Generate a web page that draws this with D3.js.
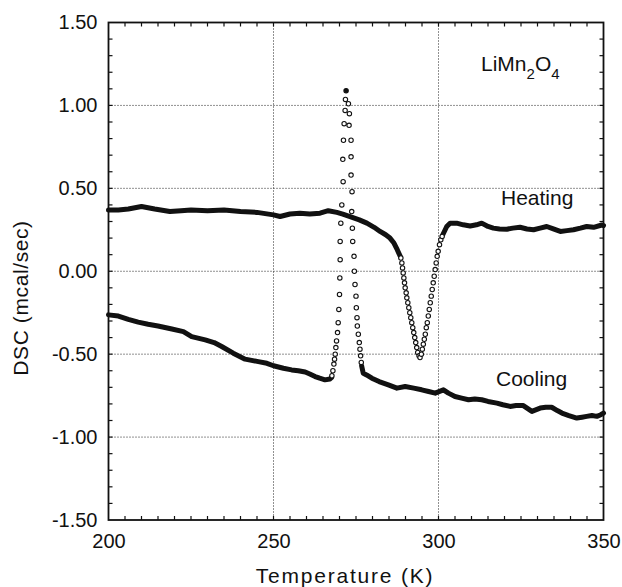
<!DOCTYPE html>
<html><head><meta charset="utf-8">
<script src="https://cdn.jsdelivr.net/npm/d3@7"></script>
<style>body{margin:0;background:#fff}svg{display:block}text{font-family:"Liberation Sans",Arial,sans-serif;fill:#111}</style>
</head><body>
<script>
// Heating run (thick line portions + open circles of the transition dip)
const heatLineA_T = [200,203,206,210,214,218.6,222,225,230,235,240,245,250,252,255,258,261,264.1,266.6,269.2,271,273.2,276,278.3,280.5,282.3,284,285.3,286.5,287.5,288.4];
const heatLineA_V = [0.37,0.37,0.375,0.39,0.375,0.36,0.365,0.37,0.365,0.37,0.36,0.355,0.34,0.33,0.345,0.35,0.345,0.35,0.365,0.355,0.345,0.33,0.31,0.29,0.265,0.24,0.22,0.20,0.17,0.13,0.09];
const heatDip_T = [288.6,288.9,289.1,289.3,289.5,289.7,289.9,290.2,290.4,290.7,291.0,291.3,291.6,291.9,292.2,292.5,292.8,293.1,293.4,293.7,294.1,294.4,294.8,295.1,295.4,295.7,296.0,296.3,296.6,296.9,297.2,297.5,297.8,298.1,298.4,298.7,299.0,299.3,299.6,299.9,300.3,300.7,301.1];
const heatDip_V = [0.08,0.05,0.02,-0.01,-0.04,-0.07,-0.10,-0.13,-0.16,-0.19,-0.22,-0.25,-0.28,-0.31,-0.34,-0.37,-0.40,-0.43,-0.46,-0.49,-0.51,-0.52,-0.50,-0.47,-0.44,-0.41,-0.38,-0.34,-0.31,-0.27,-0.23,-0.19,-0.15,-0.11,-0.07,-0.03,0.01,0.05,0.09,0.12,0.16,0.19,0.21];
const heatLineB_T = [301.3,302.5,303.5,305.5,307.5,309.6,311.5,313.1,315,316.6,318.5,320.7,322.5,324.7,326.8,328.8,330.8,332.8,334.8,336.9,338.9,340.9,343,344.9,347,349.5,350];
const heatLineB_V = [0.22,0.27,0.29,0.29,0.28,0.273,0.28,0.29,0.27,0.26,0.255,0.253,0.26,0.265,0.255,0.25,0.26,0.27,0.255,0.24,0.245,0.25,0.26,0.27,0.265,0.279,0.275];

// Cooling run (thick line portions + open circles of the sharp exotherm)
const coolLineA_T = [200,203,206,209,212,215,219.2,222.7,225.2,229.3,232,234.3,237.8,241.4,245.4,248,250,253,255.5,257.5,259.6,261,262.6,264,265.6,267.1,267.6];
const coolLineA_V = [-0.263,-0.27,-0.29,-0.307,-0.32,-0.33,-0.348,-0.364,-0.394,-0.414,-0.43,-0.454,-0.494,-0.53,-0.545,-0.555,-0.57,-0.585,-0.595,-0.6,-0.608,-0.62,-0.635,-0.645,-0.655,-0.65,-0.64];
const coolPeak_T = [267.7,268.0,268.3,268.5,268.7,268.9,269.1,269.4,269.6,269.8,270.0,270.1,270.2,270.2,270.4,270.7,271.1,271.0,271.2,271.4,271.7,271.8,272.0,272.7,273.0,272.9,273.5,273.5,273.5,273.8,273.7,273.9,274.0,274.4,274.5,274.7,275.0,275.1,275.3,275.4,275.7,276.0,276.2,276.4,276.6];
const coolPeak_V = [-0.63,-0.60,-0.56,-0.53,-0.50,-0.46,-0.42,-0.37,-0.31,-0.23,-0.14,-0.04,0.07,0.18,0.29,0.40,0.54,0.675,0.79,0.89,0.97,1.036,1.088,1.01,0.95,0.88,0.79,0.69,0.58,0.48,0.36,0.26,0.18,0.09,0.00,-0.08,-0.15,-0.22,-0.28,-0.33,-0.38,-0.43,-0.47,-0.51,-0.55];
const coolLineB_T = [276.7,277.2,278.2,279.8,282,284.8,287.4,289.9,292.5,294.9,297,299,301.5,303,305,307,309.1,311,313.1,315,317.7,319.5,321.7,323.5,325.7,328.3,330.8,332.5,334.3,336,337.4,339.5,341.9,343.5,344.9,346.5,348,349.2,350];
const coolLineB_V = [-0.57,-0.615,-0.625,-0.645,-0.665,-0.685,-0.705,-0.695,-0.705,-0.715,-0.725,-0.735,-0.715,-0.735,-0.755,-0.765,-0.775,-0.77,-0.775,-0.785,-0.795,-0.805,-0.815,-0.81,-0.81,-0.845,-0.825,-0.82,-0.82,-0.84,-0.855,-0.87,-0.885,-0.88,-0.875,-0.87,-0.875,-0.865,-0.855];

const xMajor = [200,250,300,350];
const yMajor = [1.5,1.0,0.5,0.0,-0.5,-1.0,-1.5];
const xLabel = "Temperature (K)";
const yLabel = "DSC (mcal/sec)";

const W = 622, H = 587;
const m = {l:108.5, r:603.5, t:22.5, b:520};
const svg = d3.select("body").append("svg").attr("width",W).attr("height",H);
const x = d3.scaleLinear().domain([200,350]).range([m.l,m.r]);
const y = d3.scaleLinear().domain([-1.5,1.5]).range([m.b,m.t]);

// grid
const g = svg.append("g");
g.selectAll(".gx").data(xMajor.slice(1,-1)).enter().append("line")
 .attr("x1",d=>x(d)).attr("x2",d=>x(d)).attr("y1",m.t).attr("y2",m.b)
 .attr("stroke","#222").attr("stroke-width",1).attr("stroke-dasharray","1,2");
g.selectAll(".gy").data(yMajor.slice(1,-1)).enter().append("line")
 .attr("y1",d=>y(d)).attr("y2",d=>y(d)).attr("x1",m.l).attr("x2",m.r)
 .attr("stroke","#222").attr("stroke-width",1).attr("stroke-dasharray","1,2");

// axes with inward ticks
const xt = d3.range(200,351,5), yt = d3.range(-15,16,1).map(d=>d/10);
svg.append("g").attr("transform",`translate(0,${m.b})`)
 .call(d3.axisBottom(x).tickValues(xMajor).tickSize(0).tickPadding(14).tickFormat(d3.format("d")))
 .call(a=>{a.select(".domain").remove();a.selectAll("text").attr("font-size",20).attr("font-family","Liberation Sans, Arial").attr("fill","#111");});
svg.append("g").attr("transform",`translate(${m.l},0)`)
 .call(d3.axisLeft(y).tickValues(yMajor).tickSize(0).tickPadding(11).tickFormat(d3.format(".2f")))
 .call(a=>{a.select(".domain").remove();a.selectAll("text").attr("font-size",20).attr("font-family","Liberation Sans, Arial").attr("fill","#111").text(d=>d3.format(".2f")(d).replace("−","-"));});

const tk = svg.append("g").attr("stroke","#111").attr("stroke-width",1.2);
xt.forEach(t=>{ if(t===200||t===350) return;
  tk.append("line").attr("x1",x(t)).attr("x2",x(t)).attr("y1",m.b).attr("y2",m.b-4);
  tk.append("line").attr("x1",x(t)).attr("x2",x(t)).attr("y1",m.t).attr("y2",m.t+4);});
yt.forEach(t=>{ if(t===1.5||t===-1.5) return;
  tk.append("line").attr("y1",y(t)).attr("y2",y(t)).attr("x1",m.l).attr("x2",m.l+4);
  tk.append("line").attr("y1",y(t)).attr("y2",y(t)).attr("x1",m.r).attr("x2",m.r-4);});
svg.append("rect").attr("x",m.l).attr("y",m.t).attr("width",m.r-m.l).attr("height",m.b-m.t)
 .attr("fill","none").attr("stroke","#111").attr("stroke-width",1.8);

// data
const line = d3.line().x(d=>x(d[0])).y(d=>y(d[1])).curve(d3.curveLinear);
const zip = (a,b)=>a.map((v,i)=>[v,b[i]]);
[[heatLineA_T,heatLineA_V],[heatLineB_T,heatLineB_V],[coolLineA_T,coolLineA_V],[coolLineB_T,coolLineB_V]].forEach(([a,b])=>{
  svg.append("path").datum(zip(a,b)).attr("d",line).attr("fill","none")
   .attr("stroke","#111").attr("stroke-width",5).attr("stroke-linejoin","round").attr("stroke-linecap","round");
});
const pts = zip(heatDip_T,heatDip_V).concat(zip(coolPeak_T,coolPeak_V));
const topIdx = coolPeak_V.indexOf(d3.max(coolPeak_V));
svg.append("g").selectAll("circle").data(pts).enter().append("circle")
 .attr("cx",d=>x(d[0])).attr("cy",d=>y(d[1])).attr("r",2.2)
 .attr("fill",(d,i)=> (i===heatDip_T.length+topIdx)?"#111":"#fff").attr("stroke","#111").attr("stroke-width",1.1);

// annotations
const lab = svg.append("text").attr("x",481).attr("y",71).attr("font-size",21);
lab.append("tspan").text("LiMn");
lab.append("tspan").attr("font-size",15).attr("dy",8).text("2");
lab.append("tspan").attr("dy",-8).text("O");
lab.append("tspan").attr("font-size",15).attr("dy",8).text("4");
svg.append("text").attr("x",501).attr("y",205).attr("font-size",21).text("Heating");
svg.append("text").attr("x",496).attr("y",386).attr("font-size",21).text("Cooling");

svg.append("text").attr("x",345).attr("y",583).attr("text-anchor","middle").attr("font-size",21).attr("letter-spacing",1.8).text(xLabel);
svg.append("text").attr("transform",`translate(28,298) rotate(-90)`).attr("text-anchor","middle").attr("font-size",21).attr("letter-spacing",0.6).text(yLabel);
</script>
</body></html>
